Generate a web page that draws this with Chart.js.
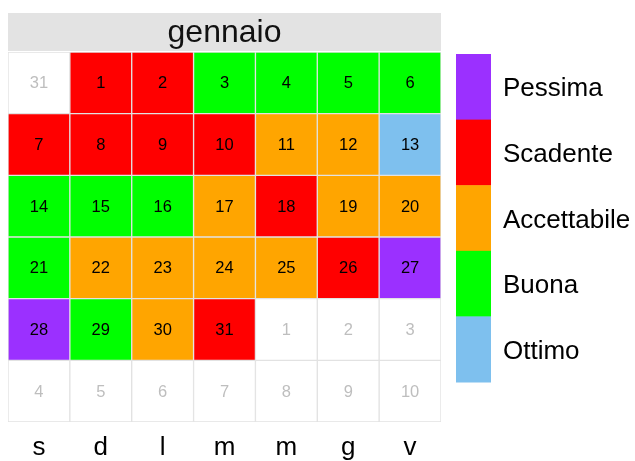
<!DOCTYPE html>
<html>
<head>
<meta charset="utf-8">
<script src="https://cdn.jsdelivr.net/npm/chart.js@4/dist/chart.umd.min.js"></script>
<style>
  html, body { margin: 0; padding: 0; background: #fff; }
  #wrap { width: 635px; height: 461px; }
</style>
</head>
<body>
<div id="wrap"><canvas id="c" width="635" height="461"></canvas></div>
<script>
const monthTitle = 'gennaio';
const dayLabels = ['s', 'd', 'l', 'm', 'm', 'g', 'v'];
const categories = ['Pessima', 'Scadente', 'Accettabile', 'Buona', 'Ottimo'];
const categoryColors = ['#9B30FF', '#FF0000', '#FFA500', '#00FF00', '#7EC0EE'];
const dayNumbers = [
  [31, 1, 2, 3, 4, 5, 6],
  [7, 8, 9, 10, 11, 12, 13],
  [14, 15, 16, 17, 18, 19, 20],
  [21, 22, 23, 24, 25, 26, 27],
  [28, 29, 30, 31, 1, 2, 3],
  [4, 5, 6, 7, 8, 9, 10]
];
const quality = [
  [null, 'Scadente', 'Scadente', 'Buona', 'Buona', 'Buona', 'Buona'],
  ['Scadente', 'Scadente', 'Scadente', 'Scadente', 'Accettabile', 'Accettabile', 'Ottimo'],
  ['Buona', 'Buona', 'Buona', 'Accettabile', 'Scadente', 'Accettabile', 'Accettabile'],
  ['Buona', 'Accettabile', 'Accettabile', 'Accettabile', 'Accettabile', 'Scadente', 'Pessima'],
  ['Pessima', 'Buona', 'Accettabile', 'Scadente', null, null, null],
  [null, null, null, null, null, null, null]
];

const FONT = '"Liberation Sans", Arial, Helvetica, sans-serif';

function cellsFor(cat) {
  const out = [];
  quality.forEach((row, r) => row.forEach((q, c) => {
    if (q === cat) out.push({ x: c, y: [r, r + 1] });
  }));
  return out;
}

const datasets = categories.map((cat, i) => ({
  label: cat,
  data: cellsFor(cat),
  backgroundColor: categoryColors[i]
}));
datasets.push({ label: 'fuori mese', data: cellsFor(null), backgroundColor: '#FFFFFF' });
datasets.forEach(d => {
  d.borderColor = '#E2E2E2';
  d.borderWidth = 1;
  d.borderSkipped = false;
  d.grouped = false;
  d.barPercentage = 1;
  d.categoryPercentage = 1;
});

const decor = {
  id: 'decor',
  afterDatasetsDraw(chart) {
    const ctx = chart.ctx;
    const xs = chart.scales.x, ys = chart.scales.y;
    const a = chart.chartArea;
    ctx.save();
    // cell numbers
    ctx.textAlign = 'center';
    ctx.textBaseline = 'middle';
    ctx.font = '16.5px ' + FONT;
    dayNumbers.forEach((row, r) => row.forEach((n, c) => {
      ctx.fillStyle = quality[r][c] ? '#000000' : '#BEBEBE';
      ctx.fillText(String(n), xs.getPixelForValue(c), ys.getPixelForValue(r + 0.5) + 1);
    }));
    // strip
    ctx.fillStyle = '#E3E3E3';
    ctx.fillRect(a.left, a.top - 39, a.right - a.left, 38);
    ctx.fillStyle = '#111111';
    ctx.font = '32px ' + FONT;
    ctx.fillText(monthTitle, (a.left + a.right) / 2, a.top - 19);
    // legend
    const lx = 456, lw = 35, ly = 54, lh = 65.6;
    ctx.textAlign = 'left';
    ctx.font = '26px ' + FONT;
    categories.forEach((cat, i) => {
      ctx.fillStyle = categoryColors[i];
      ctx.fillRect(lx, ly + i * lh, lw, lh + 0.5);
      ctx.fillStyle = '#000000';
      ctx.fillText(cat, 503, ly + i * lh + lh / 2 + 2.5);
    });
    ctx.restore();
  }
};

new Chart(document.getElementById('c'), {
  type: 'bar',
  data: { datasets },
  options: {
    responsive: false,
    animation: false,
    layout: { padding: { left: 8, top: 52, right: 194, bottom: 0 } },
    plugins: { legend: { display: false }, tooltip: { enabled: false }, title: { display: false } },
    scales: {
      x: {
        type: 'linear',
        offset: false,
        min: -0.5,
        max: 6.5,
        afterBuildTicks(scale) { scale.ticks = dayLabels.map((_, i) => ({ value: i })); },
        afterFit(scale) { scale.height = 39; },
        ticks: {
          callback: (v) => dayLabels[v] !== undefined ? dayLabels[v] : '',
          color: '#000000',
          font: { size: 26, family: FONT },
          padding: 10,
          autoSkip: false,
          maxRotation: 0
        },
        grid: { display: false, drawTicks: false, offset: false },
        border: { display: false }
      },
      y: {
        type: 'linear',
        min: 0,
        max: 6,
        reverse: true,
        display: false
      }
    }
  },
  plugins: [decor]
});
</script>
</body>
</html>
